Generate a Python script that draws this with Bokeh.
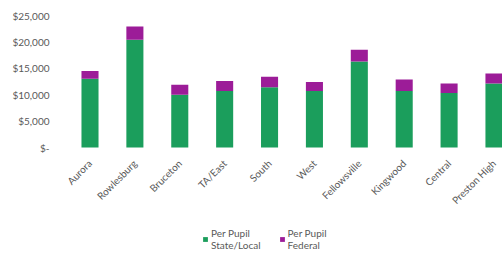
from bokeh.plotting import figure
from bokeh.models import Range1d, FixedTicker, Legend, LegendItem, ColumnDataSource
from bokeh.embed import file_html
from bokeh.resources import INLINE
import math

schools = ["Aurora", "Rowlesburg", "Bruceton", "TA/East", "South", "West",
           "Fellowsville", "Kingwood", "Central", "Preston High"]
state_local = [13000, 20400, 10000, 10700, 11400, 10700, 16300, 10700, 10300, 12100]
federal = [1500, 2500, 1900, 1900, 2000, 1700, 2200, 2200, 1800, 1900]
y_ticks = [0, 5000, 10000, 15000, 20000, 25000]
y_labels = ["$-", "$5,000", "$10,000", "$15,000", "$20,000", "$25,000"]

idx = list(range(len(schools)))
total = [a + b for a, b in zip(state_local, federal)]
src = ColumnDataSource(dict(x=idx, sl=state_local, tot=total))

FONT = "Lato"
# frame runs to the bottom of the window; value 0 sits 110px above its bottom
y_min = -110 * 25000 / 132
p = figure(frame_width=441, frame_height=242, output_backend="svg", toolbar_location=None,
           x_range=Range1d(-0.635, 9.19), y_range=Range1d(y_min, 25000),
           min_border_left=61, min_border_right=0, min_border_top=15,
           min_border_bottom=0)
p.outline_line_color = None
p.xgrid.visible = False
p.ygrid.visible = False

g = p.vbar(x="x", bottom=0, top="sl", width=0.38, source=src,
           fill_color="#1b9e5c", line_color=None)
f = p.vbar(x="x", bottom="sl", top="tot", width=0.38, source=src,
           fill_color="#9c1c98", line_color=None)

p.yaxis.ticker = FixedTicker(ticks=y_ticks)
p.yaxis.major_label_overrides = {t: l for t, l in zip(y_ticks, y_labels)}
p.xaxis.ticker = FixedTicker(ticks=idx)
p.xaxis.major_label_overrides = {i: s for i, s in zip(idx, schools)}
p.xaxis.major_label_orientation = math.pi / 4
p.xaxis.fixed_location = 0
for ax in (p.xaxis, p.yaxis):
    ax.axis_line_color = None
    ax.major_tick_line_color = None
    ax.minor_tick_line_color = None
    ax.major_label_text_font = FONT
    ax.major_label_text_font_size = "10px"
    ax.major_label_text_color = "#595959"
p.yaxis.major_label_standoff = 6
p.xaxis.major_label_standoff = 8

legend = Legend(items=[LegendItem(label="Per Pupil\nState/Local", renderers=[g]),
                       LegendItem(label="Per Pupil\nFederal", renderers=[f])],
                orientation="horizontal", location=(141, 6),
                label_text_font=FONT, label_text_font_size="10px",
                label_text_line_height=1.5,
                label_text_color="#595959", glyph_width=6, glyph_height=6,
                spacing=18, label_standoff=3, padding=0, margin=0,
                background_fill_alpha=0, border_line_color=None)
p.add_layout(legend, "center")

open("out.html", "w").write(file_html(p, INLINE))
